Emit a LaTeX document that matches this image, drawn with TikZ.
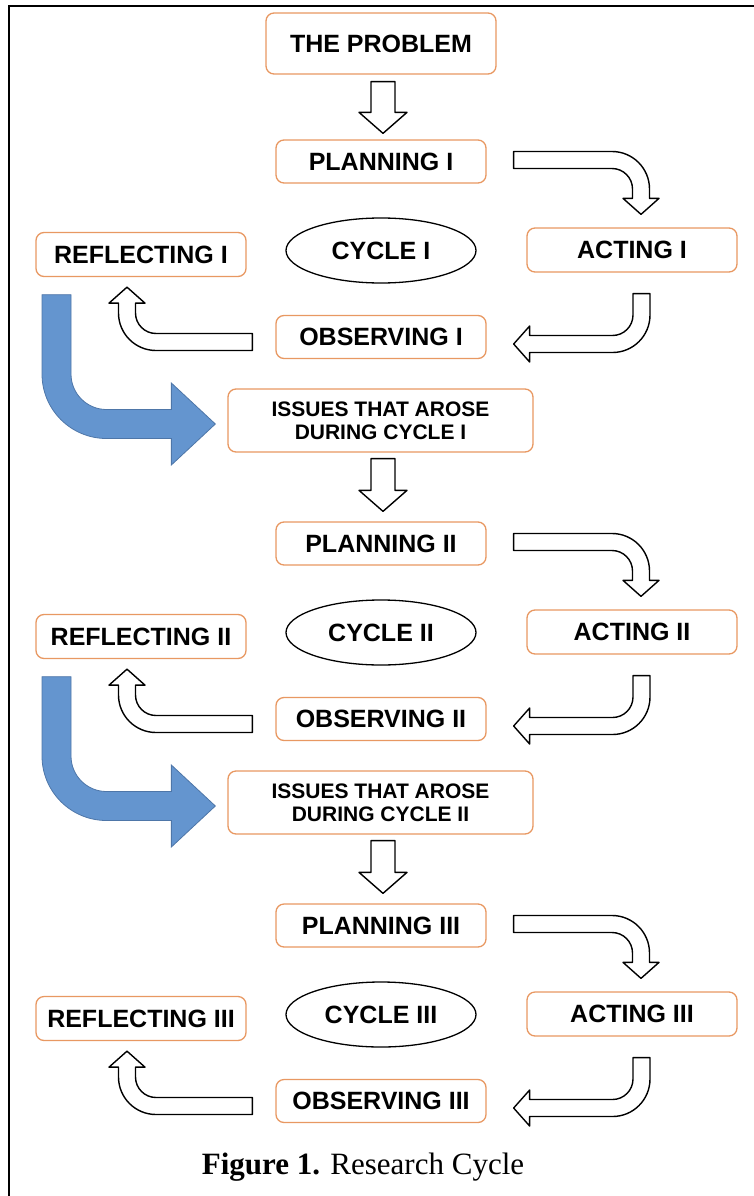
\documentclass[tikz,border=0pt]{standalone}
\usepackage{fontspec}
\newfontfamily\boxfont{Liberation Sans}
\newfontfamily\captionfont{Liberation Serif}
\usetikzlibrary{calc,shapes.geometric}
\definecolor{boxorange}{RGB}{232,152,98}
\definecolor{arrowblue}{RGB}{100,149,207}
\definecolor{arrowblueline}{RGB}{78,118,168}
\tikzset{
  stagebox/.style={draw=boxorange, line width=1.3pt, rounded corners=8pt, fill=white,
    inner sep=0pt, align=center, minimum width=210pt, minimum height=43pt,
    font=\boxfont\bfseries\fontsize{25}{28}\selectfont},
  issuebox/.style={stagebox, minimum width=305pt, minimum height=63pt,
    font=\boxfont\bfseries\fontsize{21}{23}\selectfont},
  cycleoval/.style={ellipse, draw=black, line width=1.3pt, fill=white, inner sep=0pt,
    minimum width=190pt, minimum height=65pt,
    font=\boxfont\bfseries\fontsize{25}{28}\selectfont},
  outarrow/.style={draw=black, fill=white, line width=1.4pt, line join=round},
  bluearrow/.style={draw=arrowblueline, fill=arrowblue, line width=0.8pt, line join=miter},
  framelinestyle/.style={draw=black, line width=2.5pt}
}
\newcommand\ArrDown[2]{\path[outarrow] let \p1=(#1), \p2=(#2) in
  (\x1-12pt,\y1) -- (\x1+12pt,\y1) -- (\x1+12pt,\y2+21pt) -- (\x1+24pt,\y2+21pt) --
  (\x1,\y2) -- (\x1-24pt,\y2+21pt) -- (\x1-12pt,\y2+21pt) -- cycle;}
\newcommand\ArrRightDown[2]{\path[outarrow] let \p1=(#1), \p2=(#2) in
  (\x1,\y1+8.5pt) -- (\x2-29pt,\y1+8.5pt) arc[start angle=90,end angle=0,radius=37.5pt] --
  (\x2+8.5pt,\y2+16pt) -- (\x2+18pt,\y2+16pt) -- (\x2,\y2) -- (\x2-18pt,\y2+16pt) --
  (\x2-8.5pt,\y2+16pt) -- (\x2-8.5pt,\y1-29pt) arc[start angle=0,end angle=90,radius=20.5pt] --
  (\x1,\y1-8.5pt) -- cycle;}
\newcommand\ArrDownLeft[2]{\path[outarrow] let \p1=(#1), \p2=(#2) in
  (\x1-8.5pt,\y1) -- (\x1+8.5pt,\y1) -- (\x1+8.5pt,\y2+29pt) arc[start angle=0,end angle=-90,radius=37.5pt] --
  (\x2+16pt,\y2-8.5pt) -- (\x2+16pt,\y2-18pt) -- (\x2,\y2) -- (\x2+16pt,\y2+18pt) --
  (\x2+16pt,\y2+8.5pt) -- (\x1-29pt,\y2+8.5pt) arc[start angle=-90,end angle=0,radius=20.5pt] -- cycle;}
\newcommand\ArrLeftUp[2]{\path[outarrow] let \p1=(#1), \p2=(#2) in
  (\x1,\y1+8.5pt) -- (\x2+29pt,\y1+8.5pt) arc[start angle=-90,end angle=-180,radius=20.5pt] --
  (\x2+8.5pt,\y2-16pt) -- (\x2+18pt,\y2-16pt) -- (\x2,\y2) -- (\x2-18pt,\y2-16pt) --
  (\x2-8.5pt,\y2-16pt) -- (\x2-8.5pt,\y1+29pt) arc[start angle=180,end angle=270,radius=37.5pt] --
  (\x1,\y1-8.5pt) -- cycle;}
\newcommand\ArrBlue[2]{\path[bluearrow] let \p1=(#1), \p2=(#2) in
  (\x1-14.5pt,\y1) -- (\x1+14.5pt,\y1) -- (\x1+14.5pt,\y2+50pt) arc[start angle=180,end angle=270,radius=35.5pt] --
  (\x2-44pt,\y2+14.5pt) -- (\x2-44pt,\y2+41pt) -- (\x2,\y2) -- (\x2-44pt,\y2-41pt) --
  (\x2-44pt,\y2-14.5pt) -- (\x1+50pt,\y2-14.5pt) arc[start angle=270,end angle=180,radius=64.5pt] -- cycle;}
\begin{document}
\begin{tikzpicture}[x=1pt,y=1pt]
\useasboundingbox (0,0) rectangle (754,-1196);
\draw[framelinestyle] (9,-1196) -- (9,-6) -- (754,-6);
% nodes
\node[stagebox, minimum width=230pt, minimum height=61pt] (prob) at (381,-43.5) {THE PROBLEM};
\node[stagebox] (plan1) at (381,-161.5) {PLANNING I};
\node[stagebox, minimum height=44pt] (refl1) at (141,-254.5) {REFLECTING I};
\node[cycleoval] (cyc1) at (381,-250.5) {CYCLE I};
\node[stagebox, minimum height=44pt] (act1) at (632,-250) {ACTING I};
\node[stagebox] (obs1) at (381,-337) {OBSERVING I};
\node[issuebox] (iss1) at (380.5,-420.5) {ISSUES THAT AROSE\\DURING CYCLE I};
\node[stagebox] (plan2) at (381,-543.5) {PLANNING II};
\node[stagebox, minimum height=44pt] (refl2) at (141,-636.5) {REFLECTING II};
\node[cycleoval] (cyc2) at (381,-632.5) {CYCLE II};
\node[stagebox, minimum height=44pt] (act2) at (632,-632) {ACTING II};
\node[stagebox] (obs2) at (381,-719) {OBSERVING II};
\node[issuebox] (iss2) at (380.5,-802.5) {ISSUES THAT AROSE\\DURING CYCLE II};
\node[stagebox] (plan3) at (381,-925.5) {PLANNING III};
\node[stagebox, minimum height=44pt] (refl3) at (141,-1018.5) {REFLECTING III};
\node[cycleoval] (cyc3) at (381,-1014.5) {CYCLE III};
\node[stagebox, minimum height=44pt] (act3) at (632,-1014) {ACTING III};
\node[stagebox] (obs3) at (381,-1101) {OBSERVING III};
\node[anchor=base, inner sep=0pt] (cap) at (363,-1174)
  {\captionfont\fontsize{31}{34}\selectfont\textbf{Figure 1.} Research Cycle};
% arrows
\ArrDown{$(prob.south)+(2,-7)$}{$(plan1.north)+(2,6)$}
\ArrDown{$(iss1.south)+(2.5,-6)$}{$(plan2.north)+(2,10)$}
\ArrDown{$(iss2.south)+(2.5,-6)$}{$(plan3.north)+(2,10)$}
\ArrRightDown{$(plan1.east)+(27,1.5)$}{$(act1.north)+(9,13)$}
\ArrRightDown{$(plan2.east)+(27,1.5)$}{$(act2.north)+(9,13)$}
\ArrRightDown{$(plan3.east)+(27,1.5)$}{$(act3.north)+(9,13)$}
\ArrDownLeft{$(act1.south)+(9.5,-21)$}{$(obs1.east)+(27,-7)$}
\ArrDownLeft{$(act2.south)+(9.5,-21)$}{$(obs2.east)+(27,-7)$}
\ArrDownLeft{$(act3.south)+(9.5,-21)$}{$(obs3.east)+(27,-7)$}
\ArrLeftUp{$(obs1.west)+(-23,-5)$}{$(refl1.south)+(-14,-10)$}
\ArrLeftUp{$(obs2.west)+(-23,-5)$}{$(refl2.south)+(-14,-10)$}
\ArrLeftUp{$(obs3.west)+(-23,-5)$}{$(refl3.south)+(-14,-10)$}
\ArrBlue{$(refl1.south)+(-84.5,-17.5)$}{$(iss1.west)+(-12,-3.5)$}
\ArrBlue{$(refl2.south)+(-84.5,-17.5)$}{$(iss2.west)+(-12,-3.5)$}
\end{tikzpicture}
\end{document}
